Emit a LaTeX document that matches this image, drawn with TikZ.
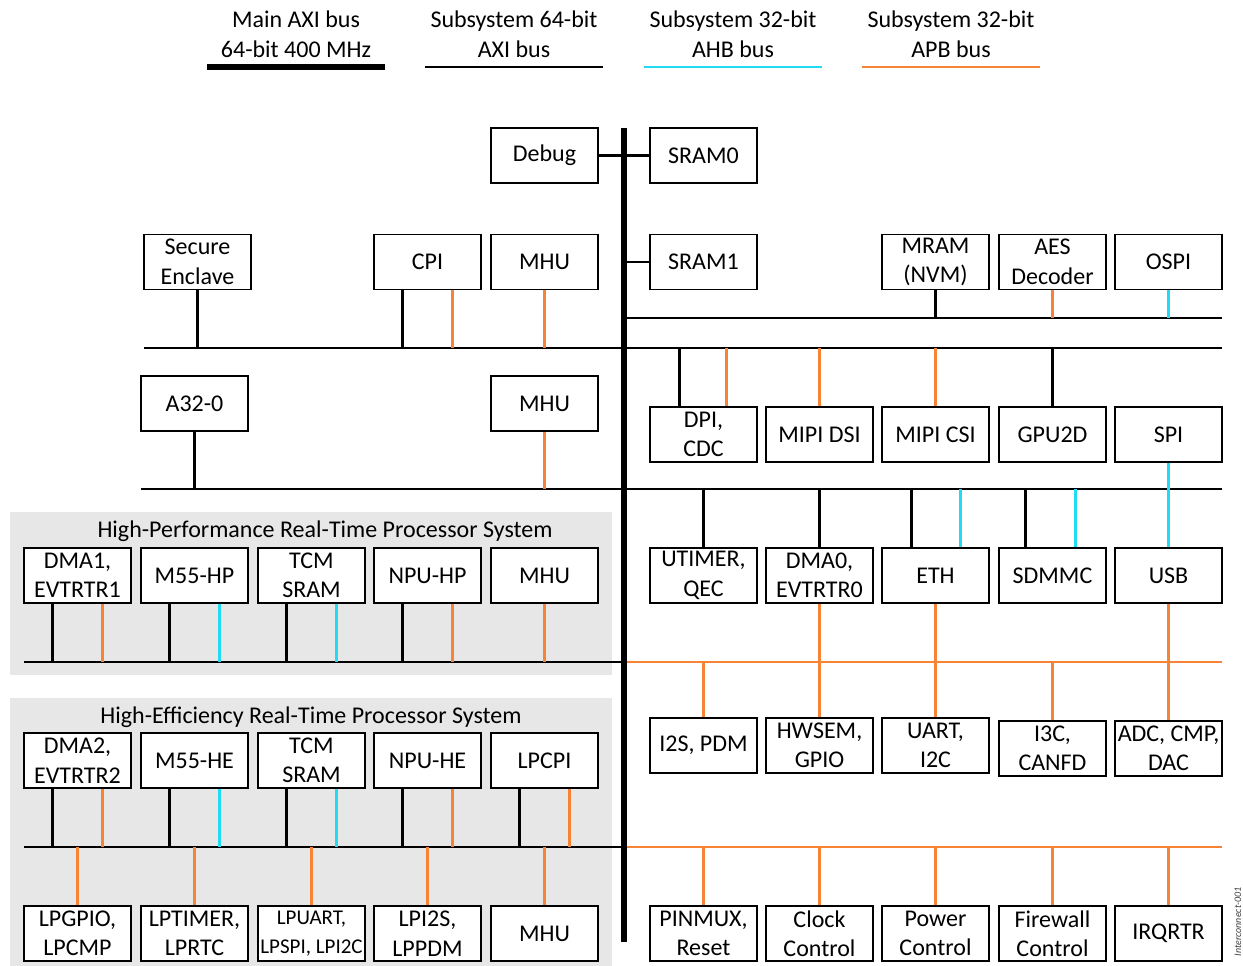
\documentclass[tikz,border=0pt]{standalone}
\usepackage{fontspec}
\setmainfont{Carlito}
\usepackage{tikz}
\definecolor{apb orange}{rgb}{0.9647, 0.5137, 0.2118}
\definecolor{ahb cyan}{rgb}{0.1294, 0.8588, 0.9529}
\definecolor{rt gray}{rgb}{0.9059, 0.9059, 0.9059}

\tikzset{
	blk/.style={draw, line width=1.4pt, fill=white, minimum width=107pt, minimum height=55pt,
		inner sep=1pt, align=center, font=\fontsize{24}{29.5}\selectfont},
	legend/.style={minimum width=178pt, inner sep=0pt, align=center, font=\fontsize{24}{30}\selectfont},
	title/.style={inner sep=0pt, font=\fontsize{24}{29.5}\selectfont},
	mainbus/.style={line width=5.5pt},
	axi/.style={line width=2.8pt},
	ahb/.style={ahb cyan, line width=2.4pt},
	apb/.style={apb orange, line width=2.4pt}
}

\begin{document}
\begin{tikzpicture}[x=1pt, y=-1pt]
			\useasboundingbox (0,0) rectangle (1243,966);
			% legend
			\node[legend, anchor=south] (lgmain) at (296,58) {Main AXI bus\\64-bit 400 MHz};
			\node[legend, anchor=south] (lgaxi) at (514,58) {Subsystem 64-bit\\AXI bus};
			\node[legend, anchor=south] (lgahb) at (733,58) {Subsystem 32-bit\\AHB bus};
			\node[legend, anchor=south] (lgapb) at (951,58) {Subsystem 32-bit\\APB bus};
			\draw[line width=6pt] ([yshift=-9pt]lgmain.south west) -- ([yshift=-9pt]lgmain.south east);
			\draw[axi] ([yshift=-9pt]lgaxi.south west) -- ([yshift=-9pt]lgaxi.south east);
			\draw[ahb] ([yshift=-9pt]lgahb.south west) -- ([yshift=-9pt]lgahb.south east);
			\draw[apb] ([yshift=-9pt]lgapb.south west) -- ([yshift=-9pt]lgapb.south east);
			% real-time processor systems
			\begin{scope}
				\fill[rt gray] (10,512) rectangle (612,675);
				\fill[rt gray] (10,698) rectangle (612,966);
				\node[title] (hptitle) at (325,531) {High-Performance Real-Time Processor System};
				\node[title] (hetitle) at (311,717) {High-Efficiency Real-Time Processor System};
			\end{scope}
			% bus end points
			\coordinate (maintop) at (624,128);
			\coordinate (mainbot) at (624,942);
			\coordinate (memw) at (624,318);
			\coordinate (meme) at (1222,318);
			\coordinate (busaw) at (144,348);
			\coordinate (busae) at (1222,348);
			\coordinate (busbw) at (141,489);
			\coordinate (busbe) at (1222,489);
			\coordinate (hpw) at (24,662);
			\coordinate (hpm) at (624,662);
			\coordinate (hpe) at (1222,662);
			\coordinate (hew) at (24,847);
			\coordinate (hem) at (624,847);
			\coordinate (hee) at (1222,847);
			% memories
			\node[blk] (debug) at (544.5,155.5) {Debug};
			\node[blk] (sram0) at (703.5,155.5) {SRAM0};
			\node[blk] (sram1) at (703.5,262) {SRAM1};
			\node[blk] (secure) at (197.5,262) {Secure\\Enclave};
			\node[blk] (cpi) at (427.5,262) {CPI};
			\node[blk] (mhua) at (544.5,262) {MHU};
			\node[blk] (mram) at (935.5,262) {MRAM\\(NVM)};
			\node[blk] (aes) at (1052.5,262) {AES\\Decoder};
			\node[blk] (ospi) at (1168.5,262) {OSPI};
			% display and graphics
			\node[blk] (a32) at (194.5,403.5) {A32-0};
			\node[blk] (mhub) at (544.5,403.5) {MHU};
			\node[blk] (dpi) at (703.5,434.5) {DPI,\\CDC};
			\node[blk] (dsi) at (819.5,434.5) {MIPI DSI};
			\node[blk] (csi) at (935.5,434.5) {MIPI CSI};
			\node[blk] (gpu) at (1052.5,434.5) {GPU2D};
			\node[blk] (spi) at (1168.5,434.5) {SPI};
			% high-performance row
			\node[blk] (dmaa) at (77.5,575.5) {DMA1,\\EVTRTR1};
			\node[blk] (mhp) at (194.5,575.5) {M55-HP};
			\node[blk] (tcmhp) at (311.5,575.5) {TCM\\SRAM};
			\node[blk] (npuhp) at (427.5,575.5) {NPU-HP};
			\node[blk] (mhuc) at (544.5,575.5) {MHU};
			\node[blk] (utimer) at (703.5,575.5) {UTIMER,\\QEC};
			\node[blk] (dmaz) at (819.5,575.5) {DMA0,\\EVTRTR0};
			\node[blk] (eth) at (935.5,575.5) {ETH};
			\node[blk] (sdmmc) at (1052.5,575.5) {SDMMC};
			\node[blk] (usb) at (1168.5,575.5) {USB};
			% peripherals
			\node[blk] (i2s) at (703.5,745.5) {I2S, PDM};
			\node[blk] (hwsem) at (819.5,745.5) {HWSEM,\\GPIO};
			\node[blk] (uart) at (935.5,745.5) {UART,\\I2C};
			\node[blk] (i3c) at (1052.5,748.5) {I3C,\\CANFD};
			\node[blk] (adc) at (1168.5,748.5) {ADC, CMP,\\DAC};
			% high-efficiency row
			\node[blk] (dmab) at (77.5,760.5) {DMA2,\\EVTRTR2};
			\node[blk] (mhe) at (194.5,760.5) {M55-HE};
			\node[blk] (tcmhe) at (311.5,760.5) {TCM\\SRAM};
			\node[blk] (npuhe) at (427.5,760.5) {NPU-HE};
			\node[blk] (lpcpi) at (544.5,760.5) {LPCPI};
			% low-power peripherals and system control
			\node[blk] (lpgpio) at (77.5,933.5) {LPGPIO,\\LPCMP};
			\node[blk] (lptimer) at (194.5,933.5) {LPTIMER,\\LPRTC};
			\node[blk, font=\fontsize{21}{29}\selectfont] (lpuart) at (311.5,933.5) {LPUART,\\LPSPI, LPI2C};
			\node[blk] (lpi2s) at (427.5,933.5) {LPI2S,\\LPPDM};
			\node[blk] (mhud) at (544.5,933.5) {MHU};
			\node[blk] (pinmux) at (703.5,933.5) {PINMUX,\\Reset};
			\node[blk] (clock) at (819.5,933.5) {Clock\\Control};
			\node[blk] (power) at (935.5,933.5) {Power\\Control};
			\node[blk] (firewall) at (1052.5,933.5) {Firewall\\Control};
			\node[blk] (irqrtr) at (1168.5,933.5) {IRQRTR};
			\node[rotate=90, text=darkgray, font=\fontsize{10}{11}\itshape\selectfont] (tag) at (1238,922) {Interconnect-001};
			% subsystem buses
			\draw[axi] (memw) -- (meme);
			\draw[axi] (busaw) -- (busae);
			\draw[axi] (busbw) -- (busbe);
			\draw[axi] (hpw) -- (hpm);
			\draw[apb] (hpm) -- (hpe);
			\draw[axi] (hew) -- (hem);
			\draw[apb] (hem) -- (hee);
			% memory taps
			\draw[axi] (debug.east) -- (sram0.west);
			\draw[axi] (sram1.west) -- (sram1.west -| maintop);
			\draw[axi] (mram.south) -- (mram.south |- memw);
			\draw[apb] (aes.south) -- (aes.south |- memw);
			\draw[ahb] (ospi.south) -- (ospi.south |- memw);
			% taps on the first bus
			\draw[axi] (secure.south) -- (secure.south |- busaw);
			\draw[axi] ([xshift=-25pt]cpi.south) -- ([xshift=-25pt]cpi.south |- busaw);
			\draw[apb] ([xshift=25pt]cpi.south) -- ([xshift=25pt]cpi.south |- busaw);
			\draw[apb] (mhua.south) -- (mhua.south |- busaw);
			\draw[axi] ([xshift=-24pt]dpi.north) -- ([xshift=-24pt]dpi.north |- busaw);
			\draw[apb] ([xshift=23pt]dpi.north) -- ([xshift=23pt]dpi.north |- busaw);
			\draw[apb] (dsi.north) -- (dsi.north |- busaw);
			\draw[apb] (csi.north) -- (csi.north |- busaw);
			\draw[axi] (gpu.north) -- (gpu.north |- busaw);
			% taps on the second bus
			\draw[axi] (a32.south) -- (a32.south |- busbw);
			\draw[apb] (mhub.south) -- (mhub.south |- busbw);
			\draw[ahb] (spi.south) -- (usb.north);
			\draw[axi] (utimer.north) -- (utimer.north |- busbw);
			\draw[axi] (dmaz.north) -- (dmaz.north |- busbw);
			\draw[axi] ([xshift=-24pt]eth.north) -- ([xshift=-24pt]eth.north |- busbw);
			\draw[ahb] ([xshift=25pt]eth.north) -- ([xshift=25pt]eth.north |- busbw);
			\draw[axi] ([xshift=-27pt]sdmmc.north) -- ([xshift=-27pt]sdmmc.north |- busbw);
			\draw[ahb] ([xshift=23pt]sdmmc.north) -- ([xshift=23pt]sdmmc.north |- busbw);
			% high-performance taps
			\foreach \n in {dmaa,mhp,tcmhp,npuhp}
				\draw[axi] ([xshift=-25pt]\n.south) -- ([xshift=-25pt]\n.south |- hpw);
			\draw[apb] ([xshift=25pt]dmaa.south) -- ([xshift=25pt]dmaa.south |- hpw);
			\draw[ahb] ([xshift=25pt]mhp.south) -- ([xshift=25pt]mhp.south |- hpw);
			\draw[ahb] ([xshift=25pt]tcmhp.south) -- ([xshift=25pt]tcmhp.south |- hpw);
			\draw[apb] ([xshift=25pt]npuhp.south) -- ([xshift=25pt]npuhp.south |- hpw);
			\draw[apb] (mhuc.south) -- (mhuc.south |- hpw);
			\draw[apb] (dmaz.south) -- (hwsem.north);
			\draw[apb] (eth.south) -- (uart.north);
			\draw[apb] (usb.south) -- (adc.north);
			\draw[apb] (i2s.north) -- (i2s.north |- hpw);
			\draw[apb] (i3c.north) -- (i3c.north |- hpw);
			% high-efficiency taps
			\foreach \n in {dmab,mhe,tcmhe,npuhe,lpcpi}
				\draw[axi] ([xshift=-25pt]\n.south) -- ([xshift=-25pt]\n.south |- hew);
			\draw[apb] ([xshift=25pt]dmab.south) -- ([xshift=25pt]dmab.south |- hew);
			\draw[ahb] ([xshift=25pt]mhe.south) -- ([xshift=25pt]mhe.south |- hew);
			\draw[ahb] ([xshift=25pt]tcmhe.south) -- ([xshift=25pt]tcmhe.south |- hew);
			\draw[apb] ([xshift=25pt]npuhe.south) -- ([xshift=25pt]npuhe.south |- hew);
			\draw[apb] ([xshift=25pt]lpcpi.south) -- ([xshift=25pt]lpcpi.south |- hew);
			\foreach \n in {lpgpio,lptimer,lpuart,lpi2s,mhud,pinmux,clock,power,firewall,irqrtr}
				\draw[apb] (\n.north) -- (\n.north |- hew);
			% main AXI bus
			\draw[mainbus] (maintop) -- (mainbot);
		\end{tikzpicture}
\end{document}
